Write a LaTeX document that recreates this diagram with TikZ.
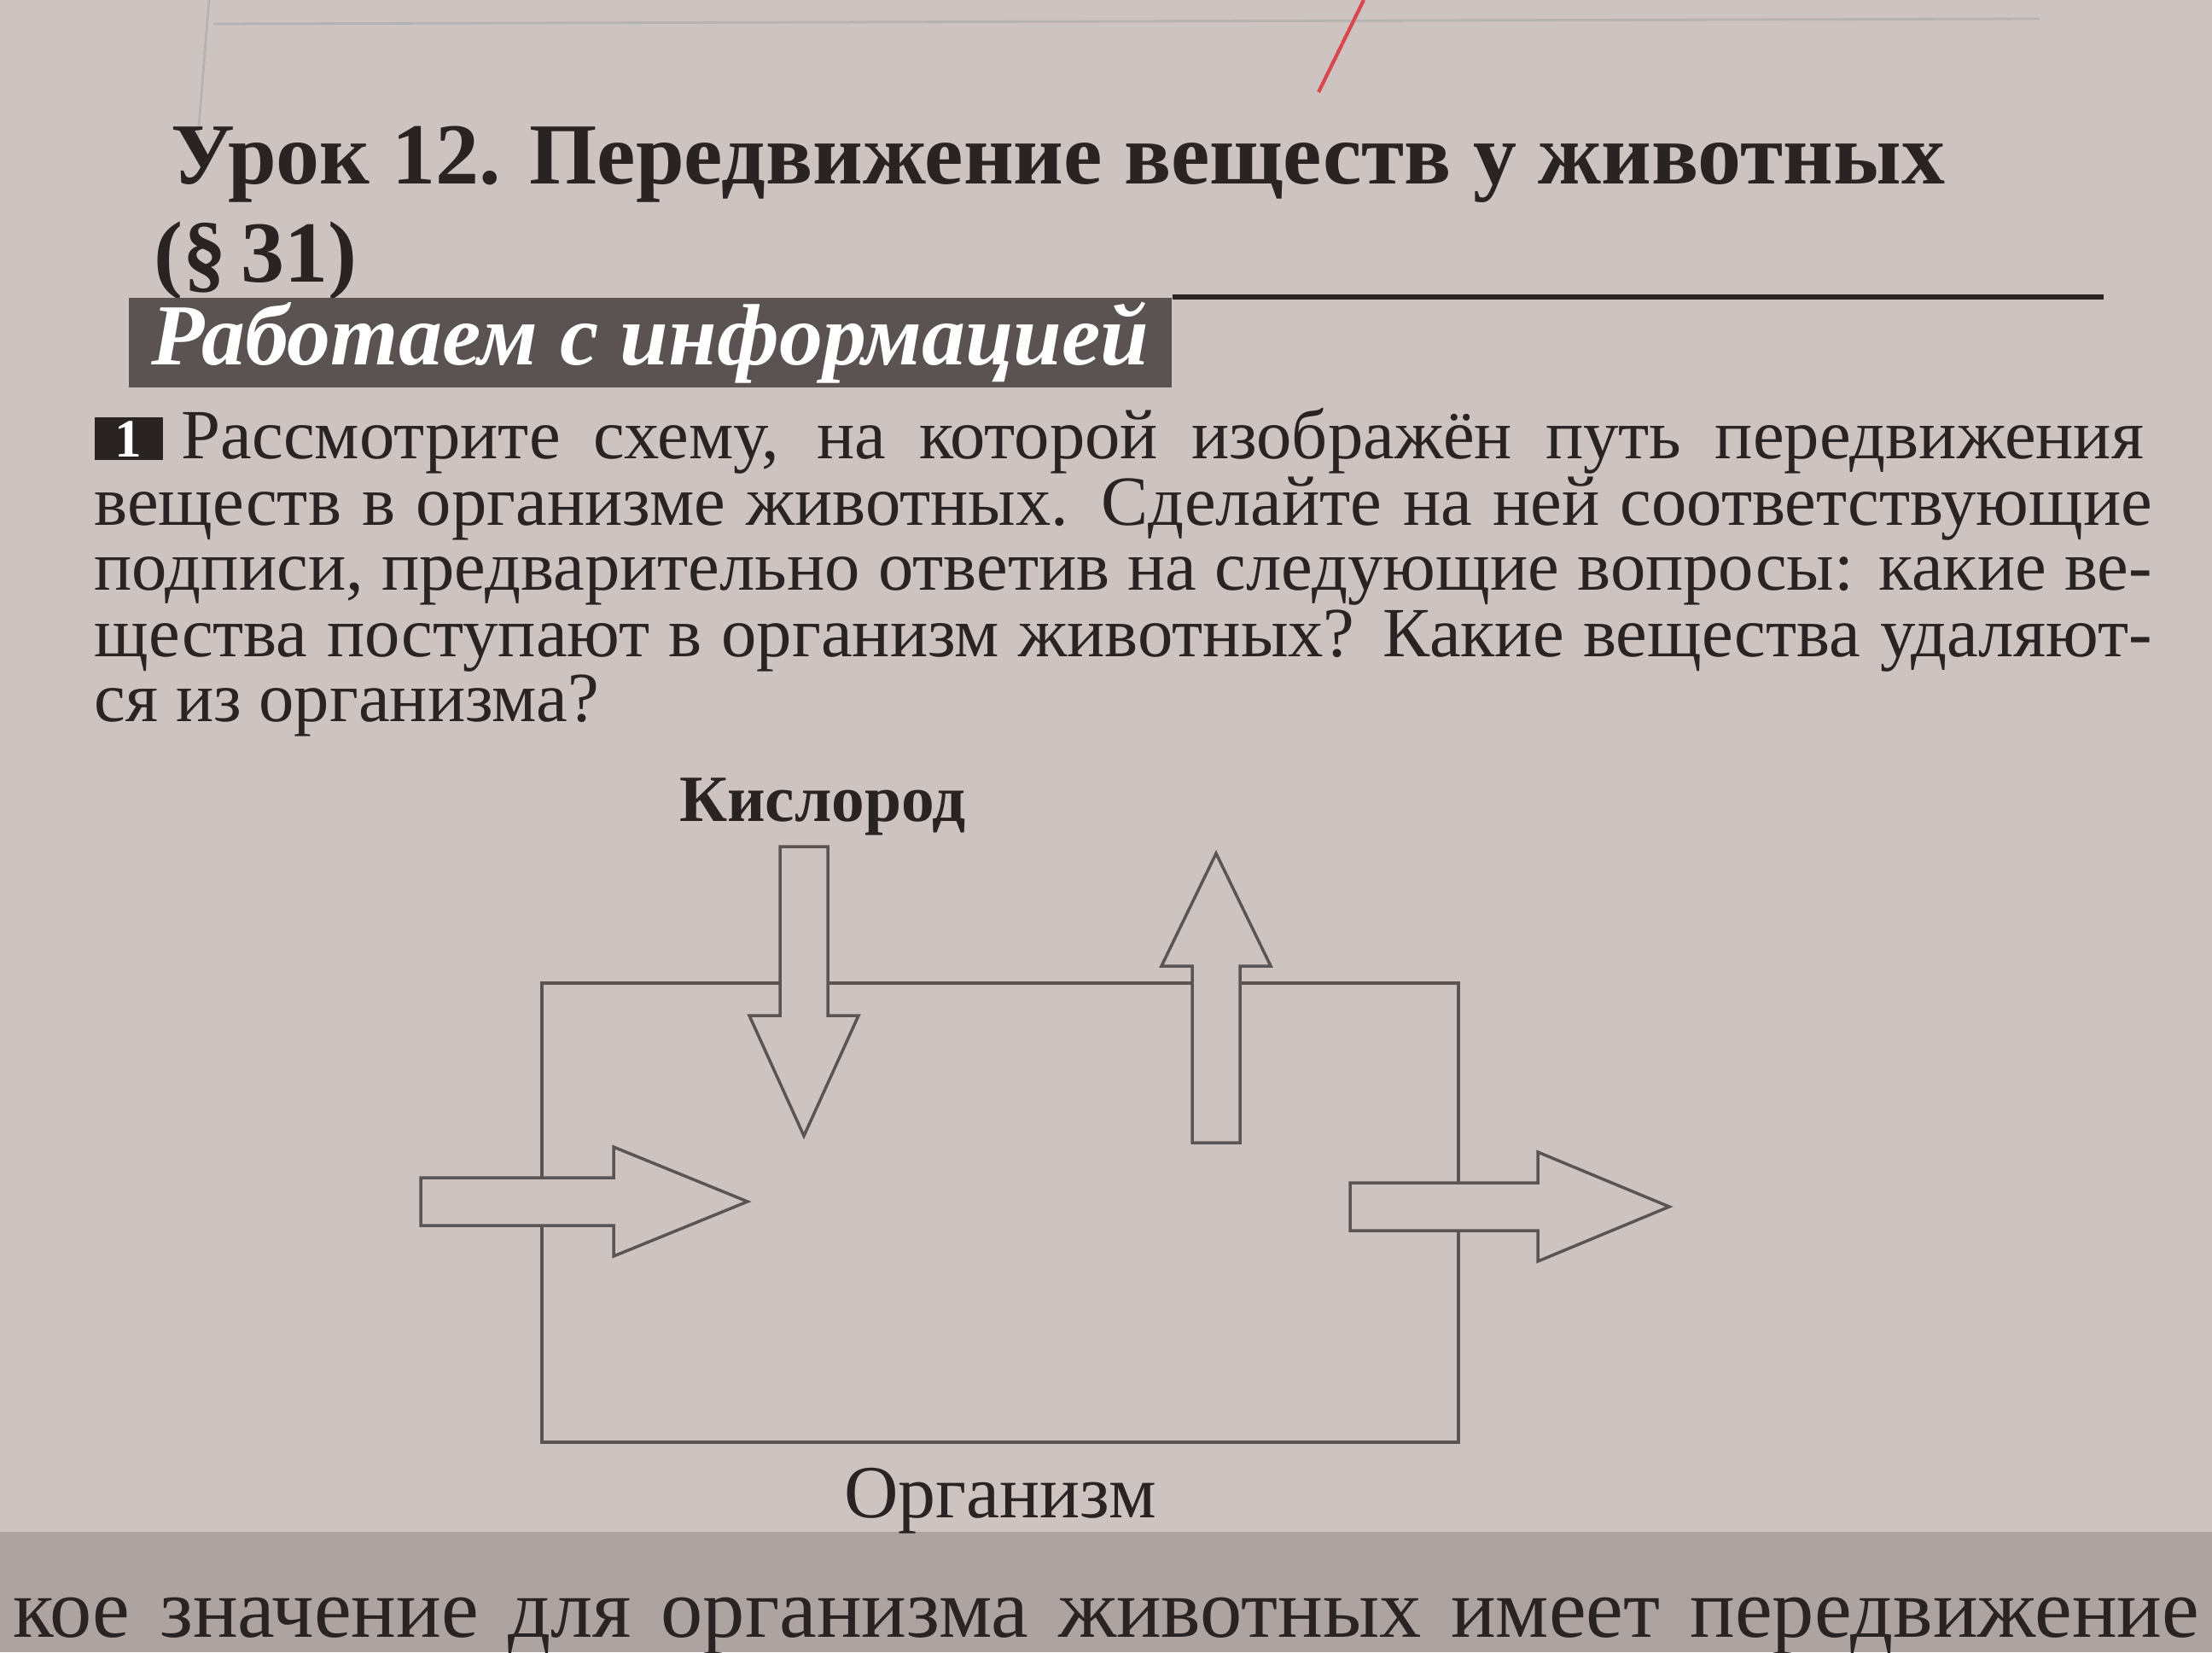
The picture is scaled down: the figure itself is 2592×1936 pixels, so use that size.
\documentclass[tikz,border=0pt]{standalone}
\usepackage{fontspec}
\setmainfont{Liberation Serif}
\usetikzlibrary{positioning}
\definecolor{paperBg}{HTML}{CDC4C2}
\definecolor{paperShade}{HTML}{ADA4A2}
\definecolor{inkDark}{HTML}{2A2323}
\definecolor{inkLine}{HTML}{5A5454}
\definecolor{barFill}{HTML}{5B5252}
\definecolor{penRed}{HTML}{D8484E}

\begin{document}
\begin{tikzpicture}[x=0.01cm, y=-0.01cm,
  headtxt/.style={font=\fontsize{29}{32}\selectfont\bfseries, text=inkDark, inner sep=0pt, anchor=base west},
  tasktxt/.style={font=\fontsize{23.5}{26}\selectfont, text=inkDark, inner sep=0pt, anchor=base west},
  barlbl/.style={fill=barFill, text=white, font=\fontsize{29}{31}\selectfont\bfseries\itshape, inner sep=0pt},
  lbl/.style={font=\fontsize{22}{24}\selectfont\bfseries, text=inkDark, inner sep=0pt},
  arrowbox/.style={draw=inkLine, fill=paperBg, line width=1pt, line join=miter}]

  \useasboundingbox (0,0) rectangle (2592,1936);
  \fill[paperBg] (0,0) rectangle (2592,1936);
  \fill[paperShade] (0,1795) rectangle (2592,1936);

  % page edge and pen mark
  \draw[inkLine!45, line width=0.8pt] (250,28) -- (2390,22);
  \draw[inkLine!45, line width=0.8pt] (245,0) -- (232,160);
  \draw[penRed, line width=1.2pt] (1598,0) -- (1545,108);

  % heading
  \node[headtxt] (title) at (200,215) {Урок 12. Передвижение веществ у животных};
  \node[headtxt] (para) at (180,330) {(\S\,31)};
  \node[barlbl, anchor=north west, minimum width=12.22cm, minimum height=1.05cm] (bar) at (150,348) {Работаем с информацией};
  \draw[inkDark, line width=1.6pt] (bar.north east) -- (2465,348);

  % task text
  \node[fill=inkDark, text=white, font=\fontsize{18}{20}\selectfont\bfseries, minimum width=0.8cm, minimum height=0.5cm, inner sep=0pt, anchor=south west] (tasknum) at (110,540) {1};
  \node[tasktxt] (line1) at (212,537) {\makebox[22.98cm][s]{Рассмотрите схему, на которой изображён путь передвижения}};
  \foreach \i/\y/\txt in {
    2/615/{веществ в организме животных. Сделайте на ней соответствующие},
    3/691/{подписи, предварительно ответив на следующие вопросы: какие ве-},
    4/769/{щества поступают в организм животных? Какие вещества удаляют-}}{
    \node[tasktxt] (line\i) at (110,\y) {\makebox[24.1cm][s]{\txt}};
  }
  \node[tasktxt] (line5) at (110,845) {ся из организма?};

  % scheme
  \node[draw=inkLine, line width=1pt, minimum width=10.73cm, minimum height=5.38cm, inner sep=0pt] (organism) at (1172,1421) {};
  \foreach \x/\y/\len/\head/\ang in {
    942/992/339/141/-90,
    1425/1339/339/132/90,
    493/1408/383/157/0,
    1582/1414/374/154/0}{
    \draw[arrowbox, shift={(\x,\y)}, rotate=\ang]
      (0,-28) -- (\len-\head,-28) -- (\len-\head,-64) -- (\len,0)
      -- (\len-\head,64) -- (\len-\head,28) -- (0,28) -- cycle;
  }
  \node[lbl] (oxygen) at (964,945) {Кислород};
  \node[lbl, font=\fontsize{25}{27}\selectfont, below=0.28cm of organism] (orgname) {Организм};

  % next task at the foot of the page
  \node[tasktxt, font=\fontsize{28}{30}\selectfont] (nextline) at (15,1918) {\makebox[25.6cm][s]{кое значение для организма животных имеет передвижение}};
\end{tikzpicture}
\end{document}
